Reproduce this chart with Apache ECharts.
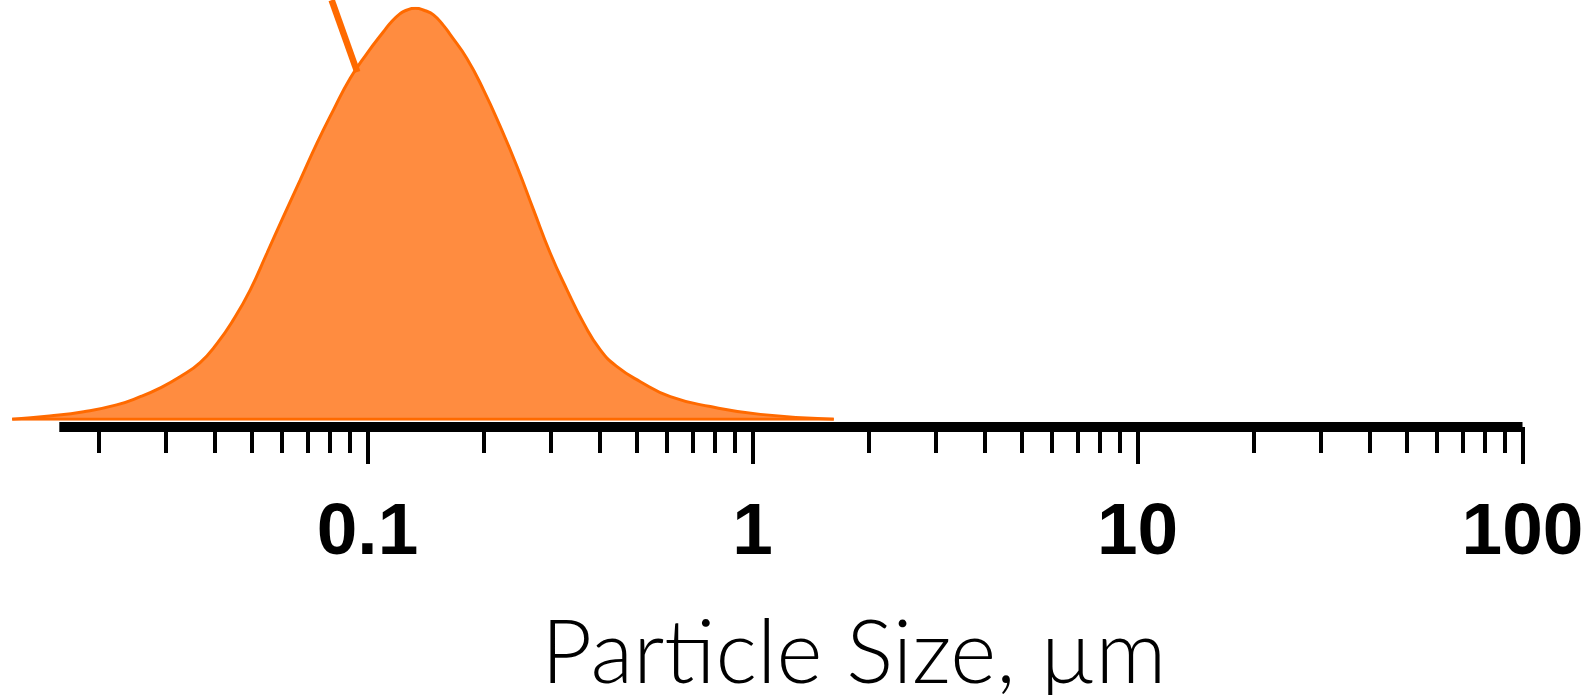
<!DOCTYPE html>
<html><head><meta charset="utf-8">
<script src="https://cdn.jsdelivr.net/npm/echarts@6/dist/echarts.min.js"></script>
<style>html,body{margin:0;padding:0;background:#fff}#c{width:1587px;height:695px}</style>
</head><body><div id="c"></div>
<script>
// Particle size (µm) and relative volume (% of peak)
const sizes = [0.0120, 0.0150, 0.0184, 0.0224, 0.0258, 0.0290, 0.0328, 0.0369, 0.0408, 0.0450, 0.0498, 0.0550, 0.0607, 0.0671, 0.0742, 0.0819, 0.0905, 0.1000, 0.1104, 0.1163, 0.1220, 0.1257, 0.1335, 0.1417, 0.1489, 0.1578, 0.1646, 0.1818, 0.2009, 0.2220, 0.2453, 0.2709, 0.2993, 0.3307, 0.3653, 0.4036, 0.4460, 0.5128, 0.6134, 0.7794, 1.051, 1.629];
const volume = [0, 0.8, 1.85, 3.5, 5.5, 7.6, 10.4, 13.8, 18.4, 24.2, 31.5, 40.4, 49.3, 58.2, 67.2, 75.3, 83.0, 89.0, 94.3, 96.9, 98.7, 99.4, 100, 99.4, 98.4, 95.9, 93.6, 87.8, 80.1, 71.2, 61.5, 50.9, 40.4, 31.5, 23.4, 16.9, 12.8, 9.15, 5.5, 3.1, 1.2, 0];
const pointerSizes = [0.0810, 0.0944];
const pointerValues = [102, 84.5];
const majorTicks = [0.1, 1, 10, 100];
const tickLabels = ['0.1', '1', '10', '100'];
const minorTicks = [0.02, 0.03, 0.04, 0.05, 0.06, 0.07, 0.08, 0.09,
  0.2, 0.3, 0.4, 0.5, 0.6, 0.7, 0.8, 0.9,
  2, 3, 4, 5, 6, 7, 8, 9,
  20, 30, 40, 50, 60, 70, 80, 90];
const axisTitle = 'Particle Size, µm';

const fillColor = '#FF8C40';
const lineColor = '#FF6A00';

const curve = sizes.map((s, i) => [s, volume[i]]);
const pointer = pointerSizes.map((s, i) => [s, pointerValues[i]]);
const baseLine = [[sizes[0], 0], [sizes[sizes.length - 1], 0]];

function labelFor(v) {
  let best = 0, bd = Infinity;
  majorTicks.forEach((m, i) => {
    const d = Math.abs(Math.log10(v) - Math.log10(m));
    if (d < bd) { bd = d; best = i; }
  });
  return bd < 0.01 ? tickLabels[best] : '';
}

const chart = echarts.init(document.getElementById('c'), null, {renderer: 'canvas'});
chart.setOption({
  animation: false,
  backgroundColor: '#fff',
  grid: [
    {left: 12.2, right: 64.5, top: 8.3, height: 411, containLabel: false},
    {left: 59.3, right: 64.5, top: 100, bottom: 268, containLabel: false}
  ],
  xAxis: [
    {type: 'log', logBase: 10, gridIndex: 0, min: 0.012, max: 100, show: false},
    {type: 'log', logBase: 10, gridIndex: 1, min: 0.01583, max: 100, position: 'bottom', offset: 0,
     axisLine: {show: false}, splitLine: {show: false},
     axisTick: {show: true, length: 26, lineStyle: {color: '#000', width: 4, cap: 'butt'}, customValues: minorTicks},
     axisLabel: {show: false}},
    {type: 'log', logBase: 10, gridIndex: 1, min: 0.01583, max: 100, position: 'bottom', offset: 0,
     axisLine: {show: true, onZero: false, lineStyle: {color: '#000', width: 10, cap: 'butt'}},
     splitLine: {show: false},
     axisTick: {show: true, length: 37, lineStyle: {color: '#000', width: 4, cap: 'butt'}, customValues: majorTicks},
     axisLabel: {show: true, customValues: majorTicks, margin: 70, formatter: labelFor,
       fontFamily: 'Liberation Sans', fontWeight: 'bold', fontSize: 73, color: '#000'}}
  ],
  yAxis: [
    {type: 'value', gridIndex: 0, min: 0, max: 100, show: false},
    {type: 'value', gridIndex: 1, min: 0, max: 1, show: false}
  ],
  series: [
    {type: 'line', xAxisIndex: 0, yAxisIndex: 0, data: curve, smooth: 0.5, symbol: 'none',
     lineStyle: {color: lineColor, width: 3}, areaStyle: {color: fillColor, opacity: 1}, z: 2},
    {type: 'line', xAxisIndex: 0, yAxisIndex: 0, data: baseLine, symbol: 'none',
     lineStyle: {color: lineColor, width: 3}, z: 3},
    {type: 'line', xAxisIndex: 0, yAxisIndex: 0, data: pointer, symbol: 'none', clip: false,
     lineStyle: {color: lineColor, width: 6.5, cap: 'butt'}, z: 4}
  ],
  graphic: [
    {type: 'text', x: 853.7, y: 655, style: {text: axisTitle, font: '300 88px Lato',
      textAlign: 'center', textVerticalAlign: 'middle', align: 'center', verticalAlign: 'middle', fill: '#000'}}
  ]
});
</script>
</body></html>
